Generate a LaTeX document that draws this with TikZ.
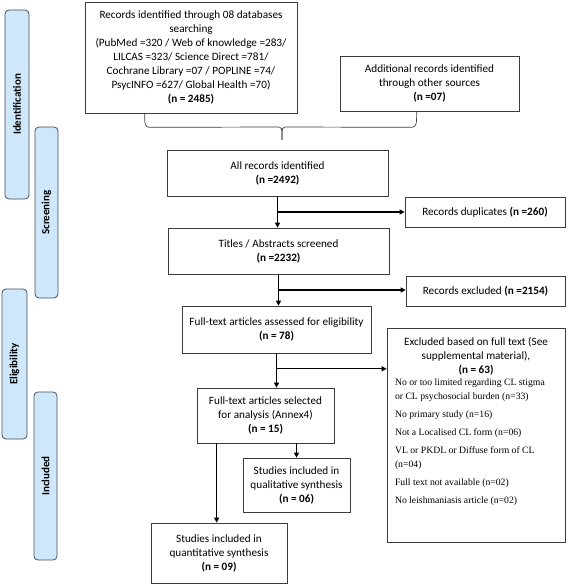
\documentclass[tikz,border=0pt]{standalone}
\usepackage{fontspec}
\setmainfont{Carlito}
\newfontfamily\tnr{Liberation Serif}
\usetikzlibrary{arrows.meta,calc}
\definecolor{barfill}{RGB}{207,231,250}
\definecolor{barline}{RGB}{70,80,90}
\definecolor{boxline}{RGB}{60,60,60}
\begin{document}
\begin{tikzpicture}[x=1pt,y=-1pt,
  box/.style={draw=boxline, line width=0.7pt, inner sep=0pt, align=center, font=\fontsize{11.2}{14}\selectfont},
  bar/.style={draw=barline, fill=barfill, rounded corners=4pt, line width=0.8pt, rotate=90, inner sep=0pt, font=\bfseries\fontsize{11}{13}\selectfont},
  arr/.style={line width=1.1pt, -{Triangle[length=5pt,width=5pt]}},
  conn/.style={draw=boxline, line width=0.7pt}]
\useasboundingbox (0,0) rectangle (567,585);

% side bars
\node[bar, minimum width=189pt, minimum height=24pt] (idb) at (17,104.5) {Identification};
\node[bar, minimum width=171pt, minimum height=23pt] (scb) at (46.5,212.5) {Screening};
\node[bar, minimum width=150pt, minimum height=25pt] (elb) at (14.5,364) {Eligibility};
\node[bar, minimum width=168pt, minimum height=23pt] (inb) at (45.5,476) {Included};

% boxes
\node[box, minimum width=212pt, minimum height=111pt] (rec) at (191,57.5) {Records identified through 08 databases\\searching\\(PubMed =320 / Web of knowledge =283/\\LILCAS =323/ Science Direct =781/\\Cochrane Library =07 / POPLINE =74/\\PsycINFO =627/ Global Health =70)\\\textbf{(n = 2485)}};
\node[box, minimum width=179pt, minimum height=55pt] (add) at (429.5,83.5) {Additional records identified\\through other sources\\\textbf{(n =07)}};
\node[box, minimum width=221pt, minimum height=46pt] (all) at (277.5,173) {All records identified\\\textbf{(n =2492)}};
\node[box, minimum width=160pt, minimum height=30pt] (dup) at (485,212) {Records duplicates \textbf{(n =260)}};
\node[box, minimum width=221pt, minimum height=46pt] (tit) at (278.5,251) {Titles / Abstracts screened\\\textbf{(n =2232)}};
\node[box, minimum width=159pt, minimum height=30pt] (rex) at (485.5,291) {Records excluded \textbf{(n =2154)}};
\node[box, minimum width=189pt, minimum height=47pt] (full) at (276.5,329.5) {Full-text articles assessed for eligibility\\\textbf{(n = 78)}};
\node[box, minimum width=137pt, minimum height=55pt] (sel) at (265.5,415.5) {Full-text articles selected\\for analysis (Annex4)\\\textbf{(n = 15)}};
\node[box, minimum width=107pt, minimum height=54pt] (qual) at (296.5,485) {Studies included in\\qualitative synthesis\\\textbf{(n = 06)}};
\node[box, minimum width=136pt, minimum height=60pt] (quant) at (219,553) {Studies included in\\quantitative synthesis\\\textbf{(n = 09)}};
\node[box, inner sep=8pt, align=left] (fex) at (476,435) {\parbox[t][198pt][t]{162pt}{%
  \vspace*{1pt}{\centering Excluded based on full text (See\\supplemental material),\\\textbf{(n = 63)}\par}
  \vspace{-6pt}
  {\tnr\fontsize{9.7}{14}\selectfont\raggedright\setlength{\parskip}{4pt}%
  No or too limited regarding CL stigma\\or CL psychosocial burden (n=33)\par
  No primary study (n=16)\par
  Not a Localised CL form (n=06)\par
  VL or PKDL or Diffuse form of CL\\(n=04)\par
  Full text not available (n=02)\par
  No leishmaniasis article (n=02)\par}}};

% brace joining the two identification boxes
\coordinate (bl) at ([xshift=60pt]rec.south west);
\coordinate (br) at ([xshift=77pt]add.south west);
\coordinate (tip) at (282,140);
\draw[conn] (bl) .. controls ($(bl)+(0,10)$) and ($(bl)+(0,14)$) .. ($(bl)+(5,14)$)
  -- ($(tip)+(-5,-13)$) .. controls ($(tip)+(0,-13)$) .. (tip);
\draw[conn] (br) .. controls ($(br)+(0,12)$) and ($(br)+(0,16)$) .. ($(br)+(-5,16)$)
  -- ($(tip)+(5,-13)$) .. controls ($(tip)+(0,-13)$) .. (tip);

% arrows
\draw[arr] (all.south) -- (all.south |- tit.north);
\coordinate (b1) at ($(all.south)!0.5!(all.south |- tit.north)$);
\draw[arr] (b1) -- (b1 -| dup.west);
\draw[arr] (tit.south) -- (tit.south |- full.north);
\coordinate (b2) at ($(tit.south)!0.5!(tit.south |- full.north)$);
\draw[arr] (b2) -- (b2 -| rex.west);
\draw[arr] (full.south) -- (full.south |- sel.north);
\coordinate (b3) at ($(full.south)!0.45!(full.south |- sel.north)$);
\draw[arr] (b3) -- (b3 -| fex.west);
\coordinate (sq) at ([xshift=20pt]sel.south west);
\draw[arr] (sq) -- (sq |- quant.north);
\draw[arr] (sel.south -| qual.north) -- (qual.north);
\end{tikzpicture}
\end{document}
